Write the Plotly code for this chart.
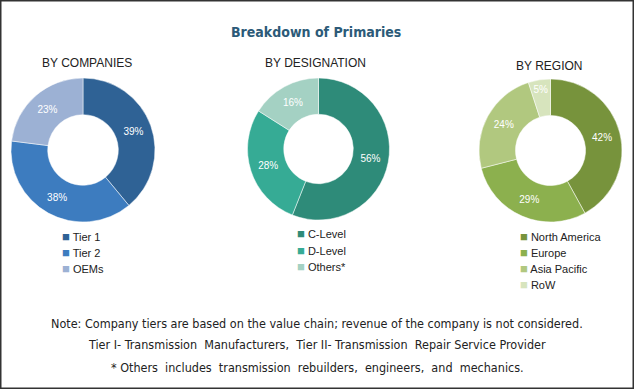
import plotly.graph_objects as go

W, H = 634, 389

title_text = "Breakdown of Primaries"

comp_title = "BY COMPANIES"
comp_labels = ["Tier 1", "Tier 2", "OEMs"]
comp_values = [39, 38, 23]
comp_colors = ["#2F6295", "#3D7CBF", "#9CB1D4"]

desig_title = "BY DESIGNATION"
desig_labels = ["C-Level", "D-Level", "Others*"]
desig_values = [56, 28, 16]
desig_colors = ["#2E8B79", "#36AB95", "#A4D1C3"]

region_title = "BY REGION"
region_labels = ["North America", "Europe", "Asia Pacific", "RoW"]
region_values = [42, 29, 24, 5]
region_colors = ["#77933C", "#8CB04E", "#B1C87F", "#D7E4BD"]

notes = [
    "Note: Company tiers are based on the value chain; revenue of the company is not considered.",
    "Tier I- Transmission  Manufacturers,  Tier II- Transmission  Repair Service Provider",
    "* Others  includes  transmission  rebuilders,  engineers,  and  mechanics.",
]

FONT = "Liberation Sans"
NARROW = "Liberation Sans Narrow, DejaVu Sans Condensed, Liberation Sans"


def px_x(v):
    return v / W


def px_y(v):
    return 1 - v / H


# pies: (labels, values, colors, domain px box)
pies = [
    (comp_labels, comp_values, comp_colors, (11, 155, 78, 222)),
    (desig_labels, desig_values, desig_colors, (247, 390, 78, 220)),
    (region_labels, region_values, region_colors, (479, 622, 79, 222)),
]

fig = go.Figure()
for labels, values, colors, (x0, x1, y0, y1) in pies:
    fig.add_trace(go.Pie(
        labels=labels,
        values=values,
        marker=dict(colors=colors, line=dict(color="white", width=0.5)),
        hole=0.49,
        sort=False,
        direction="clockwise",
        rotation=0,
        texttemplate="%{value}%",
        textposition="inside",
        insidetextorientation="horizontal",
        textfont=dict(family=FONT, size=10, color="white"),
        showlegend=False,
        hoverinfo="label+percent",
        domain=dict(x=[px_x(x0), px_x(x1)], y=[px_y(y1), px_y(y0)]),
    ))

annotations = []
# main title
annotations.append(dict(
    text="<b>" + title_text + "</b>", x=px_x(316), y=px_y(32),
    xref="paper", yref="paper", xanchor="center", yanchor="middle",
    showarrow=False, font=dict(family=NARROW, size=14, color="#2C5A78")))

# section titles
for t, cx, cy in [(comp_title, 87, 63), (desig_title, 315, 63), (region_title, 549, 66)]:
    annotations.append(dict(
        text=t, x=px_x(cx), y=px_y(cy), xref="paper", yref="paper",
        xanchor="center", yanchor="middle", showarrow=False,
        font=dict(family=FONT, size=12, color="#222222")))

# legends built from labels / colors
legend_specs = [
    (comp_labels, comp_colors, 60, 236),
    (desig_labels, desig_colors, 295, 234),
    (region_labels, region_colors, 518, 236),
]
for labels, colors, lx, ly in legend_specs:
    for i, (lab, col) in enumerate(zip(labels, colors)):
        annotations.append(dict(
            text=f"<span style='color:{col};font-size:13px'>■</span> {lab}",
            x=px_x(lx), y=px_y(ly + 16.3 * i), xref="paper", yref="paper",
            xanchor="left", yanchor="middle", showarrow=False,
            font=dict(family=FONT, size=11, color="#222222")))

# notes
for t, cy in zip(notes, [323, 344, 367]):
    annotations.append(dict(
        text=t, x=px_x(317), y=px_y(cy), xref="paper", yref="paper",
        xanchor="center", yanchor="middle", showarrow=False,
        font=dict(family=NARROW, size=12.5, color="#222222")))

fig.update_layout(
    width=W, height=H,
    margin=dict(l=0, r=0, t=0, b=0),
    paper_bgcolor="white", plot_bgcolor="white",
    annotations=annotations,
    shapes=[dict(type="rect", xref="paper", yref="paper", x0=0, x1=1, y0=0, y1=1,
                 line=dict(color="#333333", width=3))],
)

fig.write_html(
    "out.html",
    config={"displayModeBar": False},
    post_script="document.body.style.margin='0';document.body.style.overflow='hidden';",
)
